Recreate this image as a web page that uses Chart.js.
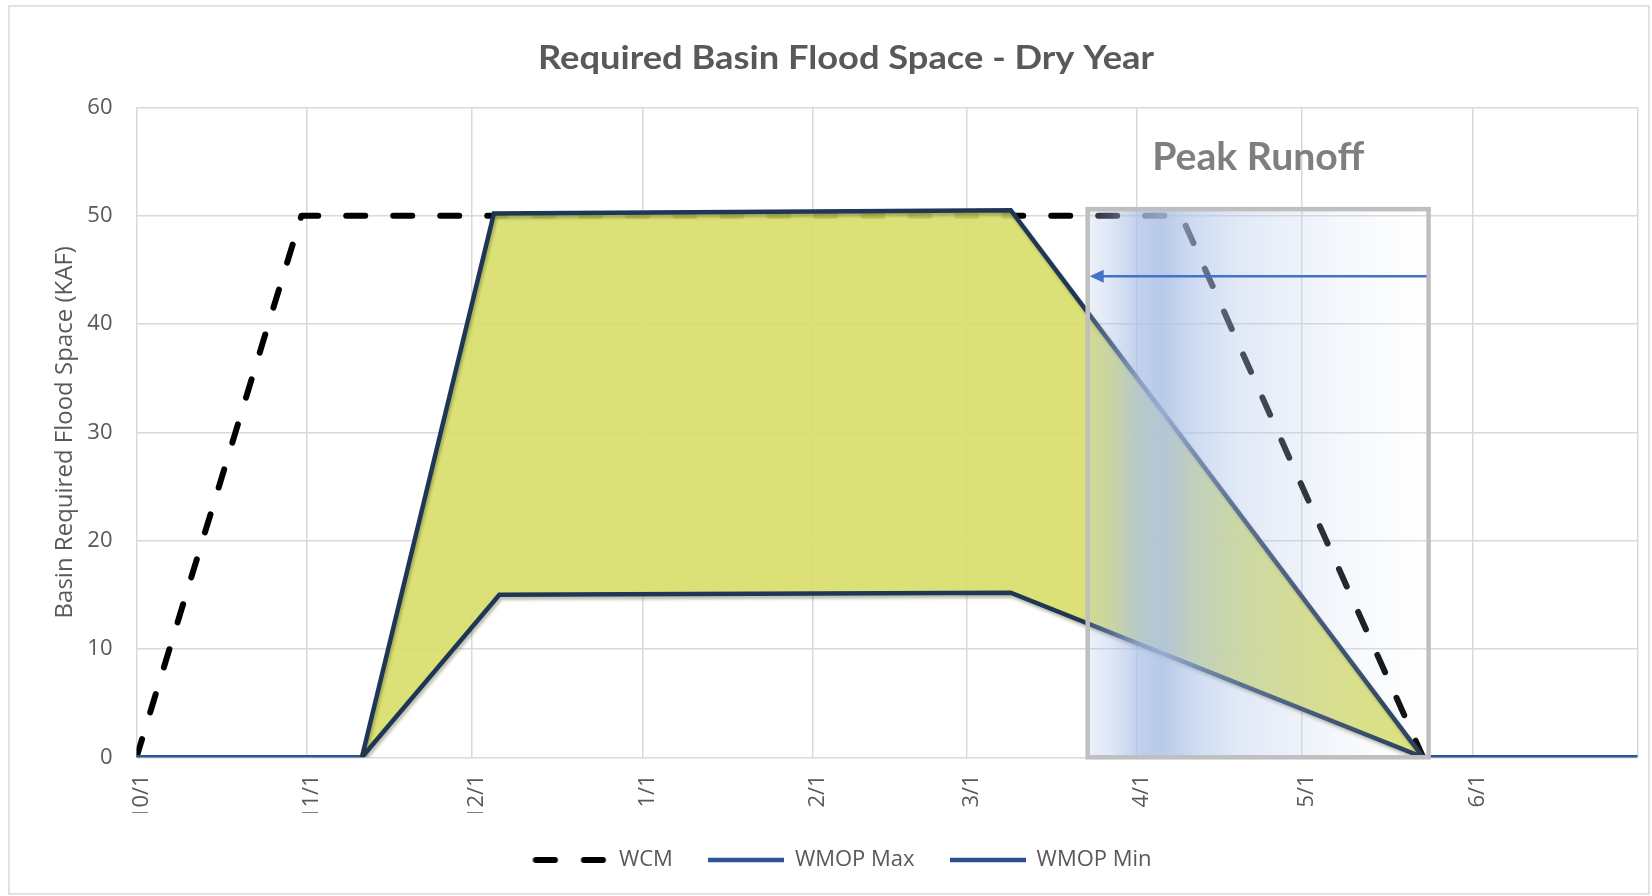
<!DOCTYPE html>
<html>
<head>
<meta charset="utf-8">
<title>Required Basin Flood Space - Dry Year</title>
<script src="https://cdn.jsdelivr.net/npm/chart.js@4.4.1/dist/chart.umd.min.js"></script>
<style>
  html, body { margin: 0; padding: 0; background: #ffffff; }
  #chart { display: block; }
</style>
</head>
<body>
<canvas id="chart" width="1652" height="896"></canvas>
<script>
// ---- Calendar of the water year (non-leap), dates written as m/d ----
const waterYearMonths = [10, 11, 12, 1, 2, 3, 4, 5, 6, 7, 8, 9];
const waterYearMonthDays = [31, 30, 31, 31, 28, 31, 30, 31, 30, 31, 31, 30];

// Axis ticks (month starts) and the labels shown under them
const monthTicks = ['10/1', '11/1', '12/1', '1/1', '2/1', '3/1', '4/1', '5/1', '6/1', '7/1'];
const monthTickLabels = ['10/1', '11/1', '12/1', '1/1', '2/1', '3/1', '4/1', '5/1', '6/1', ''];
const yTicks = [0, 10, 20, 30, 40, 50, 60];

// WCM flood-space requirement (KAF)
const wcmDates  = ['10/1', '10/31', '4/9', '5/23'];
const wcmValues = [0, 50, 50, 0];

// WMOP upper bound (KAF)
const wmopMaxDates  = ['10/1', '11/11', '12/5', '3/9', '5/23', '7/1'];
const wmopMaxValues = [0, 0, 50.2, 50.5, 0, 0];

// WMOP lower bound (KAF)
const wmopMinDates  = ['10/1', '11/11', '12/6', '3/9', '5/23', '7/1'];
const wmopMinValues = [0, 0, 15, 15.2, 0, 0];

// Peak runoff window marked on the chart
const peakWindow = { from: '3/23', to: '5/24', top: 50.6, arrowAt: 44.4 };

// Day offset from 10/1 for an m/d date
function dayOf(md) {
  const [m, d] = md.split('/').map(Number);
  let offset = 0;
  for (let i = 0; i < waterYearMonths.length; i++) {
    if (waterYearMonths[i] === m) return offset + d - 1;
    offset += waterYearMonthDays[i];
  }
  return NaN;
}
const toPoints = (dates, values) => dates.map((d, i) => ({ x: dayOf(d), y: values[i] }));

const TEXT = '#595959';
const GRID = '#d9d9d9';
const NAVY = '#1f3656';
const BASE_BLUE = '#2f5597';

// Small line swatches used as legend markers
function swatch(color, width, cap, segments) {
  const c = document.createElement('canvas');
  c.width = 76;
  c.height = 12;
  const g = c.getContext('2d');
  g.strokeStyle = color;
  g.lineWidth = width;
  g.lineCap = cap;
  g.beginPath();
  segments.forEach(([a, b]) => { g.moveTo(a, 6); g.lineTo(b, 6); });
  g.stroke();
  return c;
}
const legendMarkers = [
  swatch('#000000', 6, 'round', [[3.5, 22.5], [51.5, 70.5]]),
  swatch('#2f5597', 4.5, 'butt', [[0, 76]]),
  swatch('#2b4f8c', 4.5, 'butt', [[0, 76]])
];

const onBaseline = ctx => ctx.p0.parsed.y === 0 && ctx.p1.parsed.y === 0;

// Page backdrop and outer frame
const backdrop = {
  id: 'backdrop',
  beforeDraw(chart) {
    const { ctx, width, height } = chart;
    ctx.save();
    ctx.fillStyle = '#ffffff';
    ctx.fillRect(0, 0, width, height);
    ctx.strokeStyle = '#d9d9d9';
    ctx.lineWidth = 1.5;
    ctx.strokeRect(9, 6, 1640, 888);
    ctx.restore();
  }
};

// Soft drop shadow under the WMOP lines
const lineShadow = {
  id: 'lineShadow',
  beforeDatasetDraw(chart, args) {
    const ctx = chart.ctx;
    ctx.save();
    if (args.index !== 1 && args.index !== 2) return;
    ctx.shadowColor = 'rgba(60, 72, 20, 0.35)';
    ctx.shadowBlur = 3;
    ctx.shadowOffsetX = 1.5;
    ctx.shadowOffsetY = 3;
  },
  afterDatasetDraw(chart) {
    chart.ctx.restore();
  }
};

// Text squeezed/stretched horizontally to a given width
function fittedText(ctx, text, font, color, cx, baseline, width) {
  ctx.save();
  ctx.font = font;
  ctx.fillStyle = color;
  ctx.textAlign = 'center';
  ctx.textBaseline = 'alphabetic';
  const w = ctx.measureText(text).width;
  ctx.translate(cx, baseline);
  ctx.scale(width / w, 1);
  ctx.fillText(text, 0, 0);
  ctx.restore();
}

// Peak runoff shaded window, frame, arrow and caption
const peakRunoff = {
  id: 'peakRunoff',
  afterDatasetsDraw(chart) {
    const { ctx, scales: { x, y } } = chart;
    const x0 = x.getPixelForValue(dayOf(peakWindow.from));
    const x1 = x.getPixelForValue(dayOf(peakWindow.to));
    const y0 = y.getPixelForValue(peakWindow.top);
    const y1 = y.getPixelForValue(0);
    ctx.save();
    const g = ctx.createLinearGradient(x0, 0, x1, 0);
    g.addColorStop(0.00, 'rgba(172,193,230,0.22)');
    g.addColorStop(0.07, 'rgba(172,193,230,0.40)');
    g.addColorStop(0.15, 'rgba(172,193,230,0.75)');
    g.addColorStop(0.22, 'rgba(172,193,230,0.85)');
    g.addColorStop(0.32, 'rgba(176,197,232,0.60)');
    g.addColorStop(0.45, 'rgba(182,201,234,0.40)');
    g.addColorStop(0.65, 'rgba(192,208,237,0.25)');
    g.addColorStop(0.85, 'rgba(210,222,243,0.12)');
    g.addColorStop(1.00, 'rgba(235,240,249,0.04)');
    ctx.fillStyle = g;
    ctx.fillRect(x0, y0, x1 - x0, y1 - y0);

    ctx.strokeStyle = '#bfbfbf';
    ctx.lineWidth = 4.5;
    ctx.lineJoin = 'miter';
    ctx.strokeRect(x0, y0, x1 - x0, y1 - y0);

    const ay = y.getPixelForValue(peakWindow.arrowAt);
    const tip = x0 + 2;
    ctx.strokeStyle = '#4472c4';
    ctx.fillStyle = '#4472c4';
    ctx.lineWidth = 2.5;
    ctx.beginPath();
    ctx.moveTo(x1 - 2, ay);
    ctx.lineTo(tip + 12, ay);
    ctx.stroke();
    ctx.beginPath();
    ctx.moveTo(tip, ay);
    ctx.lineTo(tip + 14, ay - 6.5);
    ctx.lineTo(tip + 14, ay + 6.5);
    ctx.closePath();
    ctx.fill();
    ctx.restore();

    fittedText(ctx, 'Peak Runoff', 'bold 39px Lato, "Open Sans", sans-serif', '#7f7f7f',
      (x0 + x1) / 2, y0 - 39, 212);
  }
};

// Chart heading
const heading = {
  id: 'heading',
  afterDraw(chart) {
    fittedText(chart.ctx, 'Required Basin Flood Space - Dry Year',
      'bold 33px Lato, "Open Sans", sans-serif', TEXT, 846, 69, 616);
  }
};

// Centre the legend row under the plot
const legendPlacement = {
  id: 'legendPlacement',
  afterLayout(chart) {
    const lg = chart.legend;
    if (!lg) return;
    lg.left += 19;
    lg.right += 19;
  }
};

Chart.defaults.font.family = '"Open Sans", sans-serif';

const wmopMaxPoints = toPoints(wmopMaxDates, wmopMaxValues);
const wmopMinPoints = toPoints(wmopMinDates, wmopMinValues);

new Chart(document.getElementById('chart'), {
  type: 'line',
  data: {
    datasets: [
      {
        label: 'WCM',
        data: toPoints(wcmDates, wcmValues),
        borderColor: '#000000',
        borderWidth: 6,
        borderDash: [19, 28],
        borderCapStyle: 'round',
        borderJoinStyle: 'round',
        pointRadius: 0,
        fill: false,
        tension: 0,
        order: 4
      },
      {
        label: 'WMOP Max',
        data: wmopMaxPoints,
        borderColor: NAVY,
        borderWidth: 4.5,
        borderJoinStyle: 'miter',
        segment: { borderColor: c => onBaseline(c) ? BASE_BLUE : NAVY },
        pointRadius: 0,
        fill: false,
        tension: 0,
        order: 1
      },
      {
        label: 'WMOP Min',
        data: wmopMinPoints,
        borderColor: NAVY,
        borderWidth: 4.5,
        borderJoinStyle: 'miter',
        segment: { borderColor: c => onBaseline(c) ? BASE_BLUE : NAVY },
        pointRadius: 0,
        fill: false,
        tension: 0,
        order: 2
      },
      {
        // operating band between WMOP Max and WMOP Min
        label: 'WMOP band',
        data: wmopMaxPoints,
        borderWidth: 0,
        borderColor: 'rgba(0,0,0,0)',
        backgroundColor: 'rgba(216,222,104,0.9)',
        pointRadius: 0,
        fill: 2,
        tension: 0,
        order: 3
      }
    ]
  },
  options: {
    responsive: false,
    animation: false,
    devicePixelRatio: 1,
    events: [],
    layout: { padding: { left: 9, right: 14.5, top: 107.3, bottom: 15 } },
    plugins: {
      title: { display: false },
      tooltip: { enabled: false },
      legend: {
        display: true,
        position: 'bottom',
        labels: {
          usePointStyle: true,
          pointStyleWidth: 75,
          padding: 36,
          color: TEXT,
          font: { size: 22 },
          generateLabels: chart => chart.data.datasets.slice(0, 3).map((ds, i) => ({
            text: ds.label,
            datasetIndex: i,
            hidden: false,
            fillStyle: 'rgba(0,0,0,0)',
            strokeStyle: 'rgba(0,0,0,0)',
            lineWidth: 0,
            pointStyle: legendMarkers[i],
            fontColor: TEXT
          }))
        }
      }
    },
    scales: {
      x: {
        type: 'linear',
        min: dayOf(monthTicks[0]),
        max: dayOf(monthTicks[monthTicks.length - 1]),
        afterBuildTicks: s => { s.ticks = monthTicks.map(m => ({ value: dayOf(m) })); },
        afterFit: s => { s.height = 55.7; s.paddingLeft = 0; s.paddingRight = 0; },
        grid: { color: GRID, lineWidth: 1.5, drawTicks: false },
        border: { display: false },
        ticks: {
          autoSkip: false,
          minRotation: 90,
          maxRotation: 90,
          padding: 17,
          labelOffset: 5,
          color: TEXT,
          font: { size: 22 },
          callback: (v, i) => monthTickLabels[i]
        }
      },
      y: {
        min: yTicks[0],
        max: yTicks[yTicks.length - 1],
        afterBuildTicks: s => { s.ticks = yTicks.map(v => ({ value: v })); },
        afterFit: s => { s.width = 127.5; s.paddingTop = 0; s.paddingBottom = 0; },
        grid: { color: GRID, lineWidth: 1.5, drawTicks: false },
        border: { display: false },
        ticks: { padding: 24, color: TEXT, font: { size: 22 } },
        title: {
          display: true,
          text: 'Basin Required Flood Space (KAF)',
          color: TEXT,
          font: { size: 24 },
          padding: { top: 42, bottom: 0 }
        }
      }
    }
  },
  plugins: [backdrop, lineShadow, peakRunoff, heading, legendPlacement]
});
</script>
</body>
</html>
